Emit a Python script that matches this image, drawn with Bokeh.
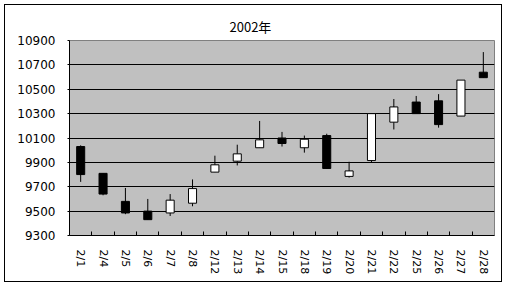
import math
from bokeh.plotting import figure
from bokeh.models import FixedTicker, Range1d, ColumnDataSource
from bokeh.embed import file_html
from bokeh.resources import INLINE

title_text = "2002年"
dates = ["2/1", "2/4", "2/5", "2/6", "2/7", "2/8", "2/12", "2/13", "2/14", "2/15",
         "2/18", "2/19", "2/20", "2/21", "2/22", "2/25", "2/26", "2/27", "2/28"]
opens = [10030, 9810, 9580, 9500, 9485, 9565, 9820, 9910, 10020, 10100,
         10020, 10120, 9785, 9915, 10230, 10395, 10405, 10280, 10640]
highs = [10040, 9810, 9690, 9600, 9640, 9760, 9955, 10045, 10240, 10150,
         10120, 10135, 9905, 10300, 10420, 10445, 10460, 10575, 10805]
lows = [9740, 9630, 9475, 9430, 9460, 9540, 9820, 9875, 10020, 10030,
        9980, 9850, 9775, 9900, 10170, 10300, 10185, 10280, 10595]
closes = [9800, 9640, 9485, 9430, 9590, 9685, 9880, 9970, 10085, 10055,
          10090, 9850, 9830, 10300, 10355, 10300, 10210, 10575, 10595]
y_ticks = [9300, 9500, 9700, 9900, 10100, 10300, 10500, 10700, 10900]

n = len(dates)
xs = list(range(n))
tops = [max(o, c) for o, c in zip(opens, closes)]
bottoms = [min(o, c) for o, c in zip(opens, closes)]
fills = ["black" if c < o else "white" for o, c in zip(opens, closes)]

src = ColumnDataSource(dict(x=xs, high=highs, low=lows, top=tops, bottom=bottoms, fill=fills))

p = figure(width=498, height=278, output_backend="svg", toolbar_location=None,
           x_range=Range1d(-0.5, n - 0.5), y_range=Range1d(y_ticks[0], y_ticks[-1]),
           min_border_left=64, min_border_right=9, min_border_top=35, min_border_bottom=48,
           styles={"border": "1px solid black", "margin": "4px 0 0 4px"})

p.background_fill_color = "#C0C0C0"
p.border_fill_color = "white"
p.outline_line_color = "#808080"
p.outline_line_width = 1

p.title.text = title_text
p.title.align = "left"
p.title.offset = 160
p.title.text_font = "Noto Sans CJK JP"
p.title.text_font_size = "13px"
p.title.text_font_style = "normal"
p.title.text_color = "black"

p.xgrid.visible = False
p.ygrid.ticker = FixedTicker(ticks=y_ticks[1:-1])
p.ygrid.grid_line_color = "black"
p.ygrid.grid_line_width = 1

p.segment(x0="x", y0="high", x1="x", y1="low", source=src, line_color="black", line_width=1)
p.vbar(x="x", top="top", bottom="bottom", width=0.36, source=src,
       fill_color="fill", line_color="black", line_width=1)

xa = p.xaxis[0]
xa.ticker = FixedTicker(ticks=xs, minor_ticks=[i + 0.5 for i in range(n - 1)])
xa.major_label_overrides = {i: d for i, d in zip(xs, dates)}
xa.major_label_orientation = -math.pi / 2
xa.major_tick_line_color = None
xa.minor_tick_in = 4
xa.minor_tick_out = 0
xa.minor_tick_line_color = "black"
xa.axis_line_color = "black"
xa.major_label_text_font = "DejaVu Sans"
xa.major_label_text_font_size = "11px"
xa.major_label_text_color = "black"
xa.major_label_standoff = 8

ya = p.yaxis[0]
ya.ticker = FixedTicker(ticks=y_ticks)
ya.major_tick_in = 0
ya.major_tick_out = 2
ya.major_tick_line_color = "black"
ya.minor_tick_line_color = None
ya.axis_line_color = "black"
ya.major_label_text_font = "DejaVu Sans"
ya.major_label_text_font_size = "12px"
ya.major_label_text_color = "black"
ya.major_label_standoff = 12

open("out.html", "w").write(file_html(p, INLINE))
